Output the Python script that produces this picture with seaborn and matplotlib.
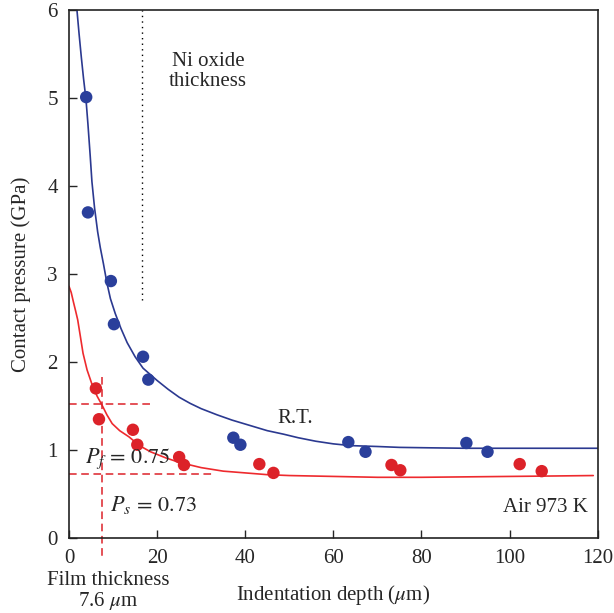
import matplotlib
matplotlib.use('Agg')
import matplotlib.pyplot as plt
import numpy as np
import pandas as pd
import seaborn as sns

# measured points, room temperature (blue)
rt_depth = [3.9, 4.3, 9.5, 10.2, 16.8, 18.0, 37.3, 38.9, 63.4, 67.3, 90.2, 95.0]
rt_press = [5.01, 3.70, 2.92, 2.43, 2.06, 1.80, 1.14, 1.06, 1.09, 0.98, 1.08, 0.98]

# measured points, air 973 K (red)
hot_depth = [6.1, 6.8, 14.5, 15.5, 25.0, 26.1, 43.2, 46.4, 73.2, 75.2, 102.3, 107.3]
hot_press = [1.70, 1.35, 1.23, 1.06, 0.92, 0.83, 0.84, 0.74, 0.83, 0.77, 0.84, 0.76]

# fitted curves
rt_fit_x = [1.8, 2.3, 2.8, 3.3, 3.86, 4.3, 4.8, 5.2, 5.8, 6.5, 7.1, 7.8, 8.6, 9.4, 10.5,
            11.8, 13.2, 15.0, 16.8, 18.4, 20.0, 22.5, 25.0, 27.5, 30.0, 33.6, 37.0, 41.0,
            45.0, 48.7, 52.0, 56.0, 60.0, 64.0, 70.0, 75.0, 82.0, 90.0, 105.0, 120.0]
rt_fit_y = [6.0, 5.72, 5.46, 5.22, 4.98, 4.70, 4.35, 4.05, 3.75, 3.48, 3.30, 3.12, 2.90,
            2.72, 2.55, 2.38, 2.22, 2.06, 1.93, 1.86, 1.79, 1.69, 1.60, 1.53, 1.47, 1.40,
            1.34, 1.28, 1.22, 1.18, 1.14, 1.10, 1.07, 1.05, 1.04, 1.03, 1.025, 1.02, 1.02, 1.02]
hot_fit_x = [0, 0.5, 1.06, 1.5, 1.97, 2.58, 3.18, 4.1, 5.4, 6.4, 7.5, 8.6, 9.8, 11.5, 13.6,
             16, 18.5, 22, 25, 30, 35, 40, 45, 50, 60, 70, 80, 90, 100, 110, 119]
hot_fit_y = [2.86, 2.79, 2.67, 2.58, 2.48, 2.29, 2.10, 1.91, 1.72, 1.61, 1.51, 1.40, 1.30,
             1.22, 1.15, 1.05, 0.98, 0.91, 0.86, 0.80, 0.76, 0.74, 0.72, 0.71, 0.70, 0.69,
             0.69, 0.695, 0.70, 0.705, 0.71]

film_thickness = 7.6
p_f = 0.75
p_s = 0.73
p_mid = 1.52
oxide_x = 16.6

blue = '#2a3f9b'
red = '#dc2229'

sns.set_style('ticks')
plt.rcParams['font.family'] = ['Liberation Serif', 'DejaVu Serif']
plt.rcParams['mathtext.fontset'] = 'stix'

fig = plt.figure(figsize=(6.14, 6.13), dpi=100)
ax = fig.add_axes([0.1124, 0.1223, 0.861, 0.8614])

sns.lineplot(x=rt_fit_x, y=rt_fit_y, ax=ax, color='#2b3990', lw=1.2, sort=False, estimator=None)
sns.lineplot(x=hot_fit_x, y=hot_fit_y, ax=ax, color='#ee2a2e', lw=1.2, sort=False, estimator=None)
sns.scatterplot(x=rt_depth, y=rt_press, ax=ax, color=blue, s=80, edgecolor='none', zorder=3)
sns.scatterplot(x=hot_depth, y=hot_press, ax=ax, color=red, s=80, edgecolor='none', zorder=3)

# Ni oxide dotted marker
ax.plot([oxide_x, oxide_x], [2.7, 6.0], color='black', ls=(0, (1, 3)), lw=1.0)

# red dashed guides
ax.plot([film_thickness, film_thickness], [1.83, -0.23], color=red, ls=(0, (5, 3)), lw=1.1,
        clip_on=False)
ax.plot([0, 19.2], [p_mid, p_mid], color=red, ls=(0, (5, 3)), lw=1.1)
ax.plot([0, 33.2], [p_s, p_s], color=red, ls=(0, (5, 3)), lw=1.1)

ax.set_xlim(0, 120)
ax.set_ylim(0, 6)
ax.set_xticks([0, 20, 40, 60, 80, 100, 120])
ax.set_yticks([0, 1, 2, 3, 4, 5, 6])
ax.tick_params(direction='in', length=6, width=1, labelsize=15, pad=8)
for s in ax.spines.values():
    s.set_linewidth(1.2)
    s.set_color('#222222')

ax.set_xlabel(r'Indentation depth ($\mu$m)', fontsize=15, labelpad=11)
ax.set_ylabel('Contact pressure (GPa)', fontsize=15, labelpad=12)

ax.text(31.6, 5.3, 'Ni oxide\nthickness', fontsize=15, ha='center', va='center', linespacing=1.1)
ax.text(51.4, 1.36, 'R.T.', fontsize=15, ha='center', va='center')
ax.text(117.7, 0.35, 'Air 973 K', fontsize=15, ha='right', va='center')
ax.text(3.6, 0.9, r'$P_f\,=\,0.75$', fontsize=16, ha='left', va='center')
ax.text(9.3, 0.37, r'$P_s\,=\,0.73$', fontsize=16, ha='left', va='center')
ax.text(8.8, -0.38, 'Film thickness\n' + r'7.6 $\mu$m', fontsize=15, ha='center', va='top',
        linespacing=0.95, clip_on=False)

fig.savefig('out.png', dpi=100)
